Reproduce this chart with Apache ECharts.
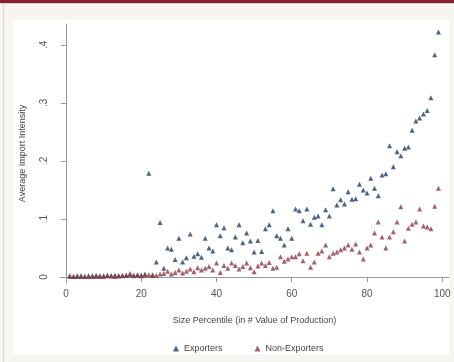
<!DOCTYPE html>
<html>
<head>
<meta charset="utf-8">
<script src="https://cdn.jsdelivr.net/npm/echarts@6/dist/echarts.min.js"></script>
<style>
html,body{margin:0;padding:0;background:#f6f5f0;}
#c{width:454px;height:362px;}
</style>
</head>
<body>
<div id="c"></div>
<script>
var percentiles = [1,2,3,4,5,6,7,8,9,10,11,12,13,14,15,16,17,18,19,20,21,22,23,24,25,26,27,28,29,30,31,32,33,34,35,36,37,38,39,40,41,42,43,44,45,46,47,48,49,50,51,52,53,54,55,56,57,58,59,60,61,62,63,64,65,66,67,68,69,70,71,72,73,74,75,76,77,78,79,80,81,82,83,84,85,86,87,88,89,90,91,92,93,94,95,96,97,98,99];
var exporters = [0.002,0.001,0.002,0.002,0.001,0.002,0.002,0.003,0.002,0.002,0.003,0.002,0.003,0.002,0.003,0.003,0.004,0.003,0.004,0.003,0.005,
0.179,0.004,0.026,0.094,0.015,0.050,0.048,0.030,0.067,0.026,0.033,0.074,0.036,0.040,0.034,0.067,0.050,0.045,0.090,
0.071,0.085,0.050,0.047,0.069,0.090,0.059,0.076,0.062,0.043,0.063,0.044,0.083,0.090,0.114,0.071,0.067,0.055,0.083,0.067,
0.117,0.114,0.097,0.117,0.091,0.103,0.105,0.090,0.116,0.105,0.152,0.124,0.133,0.126,0.147,0.134,0.135,0.160,0.150,0.145,
0.170,0.153,0.140,0.176,0.178,0.226,0.190,0.216,0.209,0.222,0.224,0.253,0.269,0.274,0.281,0.287,0.309,0.383,0.422];
var nonExporters = [0.001,0.001,0.001,0.001,0.001,0.001,0.001,0.001,0.001,0.001,0.002,0.002,0.001,0.002,0.002,0.003,0.006,0.002,0.003,0.002,0.003,0.004,0.002,
0.003,0.005,0.006,0.010,0.005,0.008,0.012,0.007,0.010,0.014,0.009,0.016,0.012,0.015,0.018,0.012,0.024,0.008,0.020,0.015,0.024,0.020,0.014,0.018,0.024,0.016,0.009,
0.019,0.024,0.020,0.025,0.015,0.017,0.035,0.027,0.031,0.035,0.035,0.040,0.028,0.041,0.017,0.026,0.041,0.045,0.055,0.035,
0.041,0.043,0.047,0.050,0.055,0.048,0.057,0.043,0.031,0.050,0.055,0.076,0.095,0.069,0.050,0.069,0.078,0.095,0.121,0.062,
0.084,0.091,0.095,0.117,0.088,0.086,0.083,0.122,0.153];
var xTicks = [0,20,40,60,80,100];
var yTicks = [0,0.1,0.2,0.3,0.4];
var yTickLabels = ['0','.1','.2','.3','.4'];

function pairs(xs, ys){ return xs.map(function(x,i){ return [x, ys[i]]; }); }

var chart = echarts.init(document.getElementById('c'), null, {renderer:'canvas'});
var font = 'Liberation Sans, Arial, sans-serif';
chart.setOption({
  backgroundColor: '#f6f5f0',
  animation: false,
  textStyle: {fontFamily: font},
  graphic: [
    {type:'rect', shape:{x:0,y:0,width:454,height:3}, style:{fill:'#8c1f30'}, z:-10},
    {type:'rect', shape:{x:0,y:3,width:454,height:1}, style:{fill:'#d0d0d0'}, z:-10},
    {type:'rect', shape:{x:3,y:4,width:1,height:358}, style:{fill:'#d4d4d4'}, z:-10},
    {type:'rect', shape:{x:13,y:20,width:436,height:334}, style:{fill:'#ffffff'}, z:-10}
  ],
  grid: {left:60, top:24, width:389, height:259, containLabel:false},
  xAxis: {
    type:'value', min:-1.6, max:101.8,
    name:'Size Percentile (in # Value of Production)',
    nameLocation:'middle', nameGap:33,
    nameTextStyle:{color:'#444', fontSize:9, fontFamily:font},
    axisLine:{show:true, lineStyle:{color:'#999', width:1}},
    axisTick:{show:true, length:5, lineStyle:{color:'#999'}, customValues: xTicks},
    axisLabel:{color:'#555', fontSize:10, margin:6, customValues: xTicks, fontFamily:font},
    splitLine:{show:false}
  },
  yAxis: {
    type:'value', min:-0.0103, max:0.436,
    name:'Average Import Intensity',
    nameLocation:'middle', nameGap:33,
    nameTextStyle:{color:'#444', fontSize:9, fontFamily:font},
    axisLine:{show:true, lineStyle:{color:'#999', width:1}},
    axisTick:{show:true, length:5, lineStyle:{color:'#999'}, customValues: yTicks},
    axisLabel:{color:'#555', fontSize:10, margin:11, rotate:90, customValues: yTicks, fontFamily:font,
      formatter:function(v){ var i = yTicks.findIndex(function(t){return Math.abs(t-v)<1e-6;}); return i>=0 ? yTickLabels[i] : ''; }},
    splitLine:{show:false}
  },
  legend: {
    left:168, top:339, itemWidth:6, itemHeight:6, itemGap:32,
    textStyle:{color:'#444', fontSize:9, fontFamily:font},
    data:[{name:'Exporters', icon:'triangle'},{name:'Non-Exporters', icon:'triangle'}]
  },
  series: [
    {name:'Exporters', type:'scatter', symbol:'triangle', symbolSize:5,
     itemStyle:{color:'#1f3f66'}, data: pairs(percentiles, exporters)},
    {name:'Non-Exporters', type:'scatter', symbol:'triangle', symbolSize:5,
     itemStyle:{color:'#8f3a44'}, data: pairs(percentiles, nonExporters)}
  ]
});
</script>
</body>
</html>
